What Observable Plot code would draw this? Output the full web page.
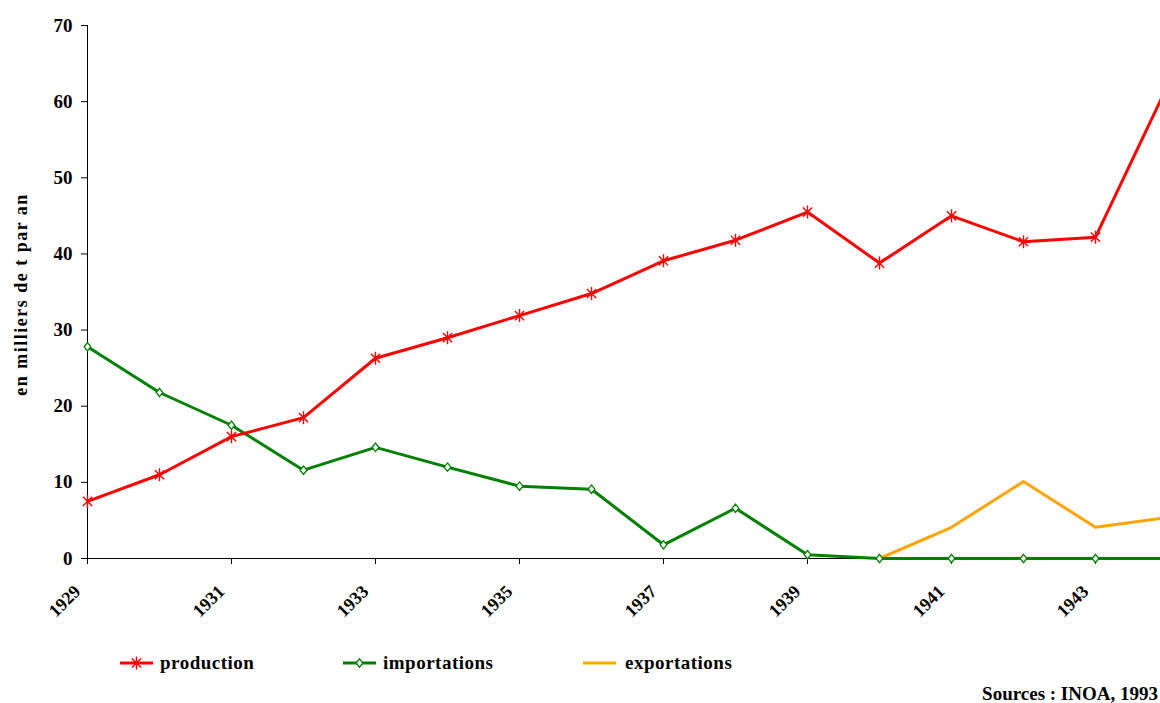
<!DOCTYPE html>
<html>
<head>
<meta charset="utf-8">
<script src="https://cdn.jsdelivr.net/npm/d3@7"></script>
<script src="https://cdn.jsdelivr.net/npm/@observablehq/plot@0.6"></script>
<style>
  html, body { margin: 0; padding: 0; background: #fff; overflow: hidden; }
  body { width: 1160px; height: 703px; position: relative; font-family: "Liberation Serif", "Times New Roman", serif; font-weight: bold; }
  #chart { position: absolute; left: 0; top: 0; }
  .legend { position: absolute; top: 652px; left: 0; height: 22px; width: 1160px; }
  .item { position: absolute; top: 0; height: 22px; display: flex; align-items: center; font-size: 19px; letter-spacing: 0.5px; color: #000; }
  .source { position: absolute; right: 2px; top: 683px; font-size: 19px; color: #000; }
</style>
</head>
<body>
<div id="chart"></div>
<div class="legend" id="legend"></div>
<div class="source">Sources : INOA, 1993</div>
<script>
// ---- data ----
const years = [1929, 1930, 1931, 1932, 1933, 1934, 1935, 1936, 1937, 1938, 1939, 1940, 1941, 1942, 1943, 1944];
const production   = [7.5, 11.0, 16.0, 18.5, 26.3, 29.0, 31.9, 34.8, 39.1, 41.8, 45.5, 38.8, 45.0, 41.6, 42.2, 62.1];
const importations = [27.8, 21.8, 17.5, 11.6, 14.6, 12.0, 9.5, 9.1, 1.8, 6.6, 0.5, 0, 0, 0, 0, 0];
const exportYears  = [1940, 1941, 1942, 1943, 1944];
const exportations = [0, 4.1, 10.1, 4.1, 5.4];
const xTickLabels = [1929, 1931, 1933, 1935, 1937, 1939, 1941, 1943];
const yTicks = [0, 10, 20, 30, 40, 50, 60, 70];
const yTitle = "en milliers de t par an";
const seriesNames = ["production", "importations", "exportations"];
const seriesColors = ["#ff0000", "#008000", "#ffa500"];

const prodData = years.map((y, i) => ({year: y, value: production[i]}));
const impData = years.map((y, i) => ({year: y, value: importations[i]}));
const expData = exportYears.map((y, i) => ({year: y, value: exportations[i]}));

// Excel-like star marker: vertical bar + X
const starSymbol = {
  draw(ctx, size) {
    const r = Math.sqrt(size / Math.PI);
    const d = r * 0.7071;
    ctx.moveTo(0, -r); ctx.lineTo(0, r);
    ctx.moveTo(-d, -d); ctx.lineTo(d, d);
    ctx.moveTo(-d, d); ctx.lineTo(d, -d);
  }
};
// Excel-like small diamond, slightly taller than wide
const diamondSymbol = {
  draw(ctx, size) {
    const r = Math.sqrt(size / Math.PI);
    const w = r * 0.8;
    ctx.moveTo(0, -r); ctx.lineTo(w, 0); ctx.lineTo(0, r); ctx.lineTo(-w, 0); ctx.closePath();
  }
};

const font = "'Liberation Serif', 'Times New Roman', serif";
// the original plot area is cut by the picture's right edge a bit before 1944
const xEnd = 1929 + (1160 - 87) / 72;

const chart = Plot.plot({
  width: 1160,
  height: 625,
  marginLeft: 87,
  marginRight: 0,
  marginTop: 25,
  marginBottom: 67,
  style: {fontFamily: font, fontWeight: "bold", fontSize: "19px", background: "#fff", color: "#000", overflow: "hidden"},
  x: {domain: [1929, xEnd]},
  y: {domain: [0, 70]},
  marks: [
    Plot.axisY({ticks: yTicks, tickSize: 6, tickPadding: 9, tickFormat: d => d, fontSize: 19, fontWeight: "bold", stroke: "#000", strokeWidth: 1, label: null}),
    Plot.axisX({ticks: xTickLabels, tickSize: 6, tickFormat: () => "", stroke: "#000", strokeWidth: 1, label: null}),
    Plot.ruleX([1929], {y1: 0, y2: 70, stroke: "#000", strokeWidth: 1}),
    Plot.ruleY([0], {x1: 1929, x2: xEnd, stroke: "#000", strokeWidth: 1}),
    Plot.text(xTickLabels, {x: d => d, y: 0, text: d => String(d), rotate: -45, textAnchor: "end", lineAnchor: "middle", dx: -10, dy: 30, fontSize: 18, fontWeight: "bold", fill: "#000"}),
    Plot.text([yTitle], {frameAnchor: "left", textAnchor: "middle", lineAnchor: "middle", rotate: -90, dx: -66, dy: 2.5, text: d => d, fontSize: 18, fontWeight: "bold", fill: "#000"}),
    Plot.line(expData, {x: "year", y: "value", stroke: seriesColors[2], strokeWidth: 3}),
    Plot.line(impData, {x: "year", y: "value", stroke: seriesColors[1], strokeWidth: 3}),
    Plot.dot(impData, {x: "year", y: "value", symbol: diamondSymbol, r: 4.2, fill: "#fff", stroke: seriesColors[1], strokeWidth: 1.3}),
    Plot.line(prodData, {x: "year", y: "value", stroke: seriesColors[0], strokeWidth: 3}),
    Plot.dot(prodData, {x: "year", y: "value", symbol: starSymbol, r: 6.5, fill: "none", stroke: seriesColors[0], strokeWidth: 1.4})
  ]
});
document.getElementById("chart").appendChild(chart);
// letter spacing for the y title
chart.querySelectorAll("text").forEach(t => { if (t.textContent === yTitle) t.setAttribute("letter-spacing", "1.5"); });

// legend
const legendPos = [{sw: 120, tx: 160}, {sw: 343, tx: 383}, {sw: 583, tx: 625}];
const legend = document.getElementById("legend");
seriesNames.forEach((name, i) => {
  const item = document.createElement("div");
  item.className = "item";
  item.style.left = legendPos[i].sw + "px";
  let marker = "";
  if (i === 0) marker = `<path d="M16.5,4.5V17.5M11.9,6.4L21.1,15.6M11.9,15.6L21.1,6.4" stroke="${seriesColors[0]}" stroke-width="1.4" fill="none"/>`;
  if (i === 1) marker = `<path d="M16.5,6.8L19.9,11L16.5,15.2L13.1,11Z" stroke="${seriesColors[1]}" stroke-width="1.3" fill="#fff"/>`;
  item.innerHTML = `<svg width="33" height="22"><line x1="0" x2="33" y1="11" y2="11" stroke="${seriesColors[i]}" stroke-width="3"/>${marker}</svg><span>${name}</span>`;
  item.querySelector("svg").style.marginRight = (legendPos[i].tx - legendPos[i].sw - 33) + "px";
  legend.appendChild(item);
});
</script>
</body>
</html>
